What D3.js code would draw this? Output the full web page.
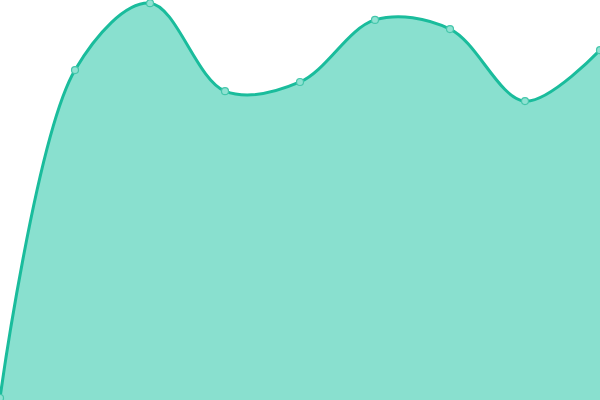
<!DOCTYPE html>
<html>
<head>
<meta charset="utf-8">
<script src="https://cdn.jsdelivr.net/npm/d3@7"></script>
<style>
  body { margin: 0; background: #fff; }
</style>
</head>
<body>
<div id="chart"></div>
<script>
var svgWidth = 600;
var svgHeight = 400;

// data
var labels = ["A", "B", "C", "D", "E", "F", "G", "H", "I"];
var values = [0, 82.4, 99.2, 77.1, 79.4, 95, 92.7, 74.6, 87.4];

var svg = d3.select("#chart")
  .append("svg")
  .attr("width", svgWidth)
  .attr("height", svgHeight);

var xScale = d3.scalePoint()
  .domain(labels)
  .range([0, svgWidth]);

var yScale = d3.scaleLinear()
  .domain([0, 100])
  .range([398, 0]);

var data = labels.map(function(l, i) { return { label: l, value: values[i] }; });

var area = d3.area()
  .x(d => xScale(d.label))
  .y0(svgHeight)
  .y1(d => yScale(d.value))
  .curve(d3.curveCatmullRom);

var line = d3.line()
  .x(d => xScale(d.label))
  .y(d => yScale(d.value))
  .curve(d3.curveCatmullRom);

svg.append("path")
  .datum(data)
  .attr("d", area)
  .attr("fill", "#89e0cf");

svg.append("path")
  .datum(data)
  .attr("d", line)
  .attr("fill", "none")
  .attr("stroke", "#1abc9c")
  .attr("stroke-width", 3);

// point markers
svg.selectAll("circle")
  .data(data)
  .enter()
  .append("circle")
  .attr("cx", d => xScale(d.label))
  .attr("cy", d => yScale(d.value))
  .attr("r", 3.5)
  .attr("fill", "#8fe2d2")
  .attr("stroke", "#45c6ab")
  .attr("stroke-width", 1.2);
</script>
</body>
</html>
